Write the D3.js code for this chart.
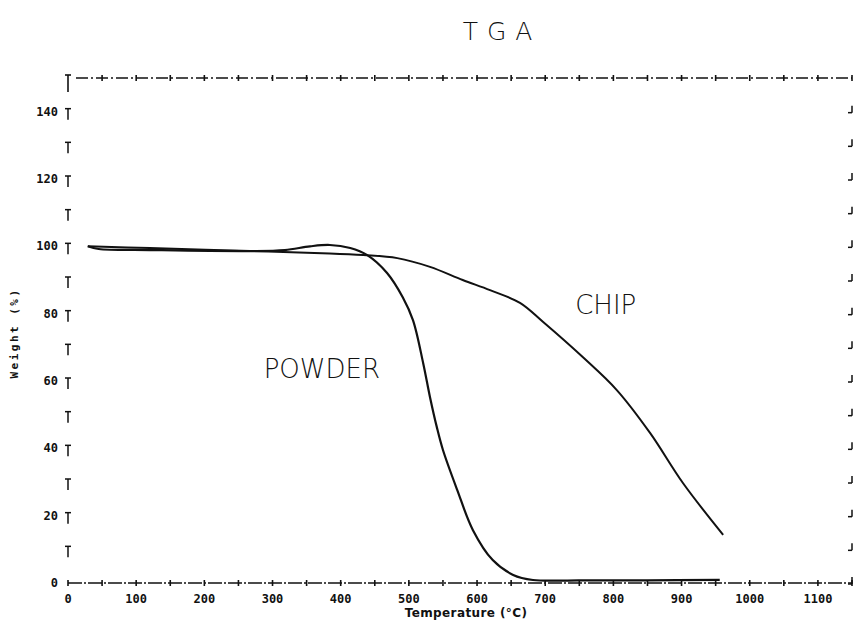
<!DOCTYPE html>
<html>
<head>
<meta charset="utf-8">
<script src="https://cdn.jsdelivr.net/npm/d3@7"></script>
<style>
  html, body { margin: 0; padding: 0; background: #fff; }
  svg { display: block; }
</style>
</head>
<body>
<svg id="chart" width="856" height="621"></svg>
<script>
// ---- data ----
const title = "TGA";
const xLabel = "Temperature (°C)";
const yLabel = "Weight (%)";
const xTickValues = [0, 100, 200, 300, 400, 500, 600, 700, 800, 900, 1000, 1100];
const yTickValues = [0, 20, 40, 60, 80, 100, 120, 140];

const powderTemp   = [29, 45, 120, 267, 318, 355, 384, 414, 439, 468, 491, 506, 521, 531, 541, 550, 571, 594, 623, 653, 682, 750, 850, 956];
const powderWeight = [100.0, 99.2, 98.9, 98.6, 98.9, 100.0, 100.4, 99.5, 97.4, 92.1, 84.9, 78.1, 65.3, 55.2, 46.3, 39.5, 27.6, 15.7, 6.8, 2.4, 0.9, 0.8, 0.8, 0.9];

const chipTemp   = [29, 120, 267, 384, 433, 483, 531, 579, 619, 663, 697, 755, 805, 854, 902, 961];
const chipWeight = [100.0, 99.5, 98.6, 97.9, 97.4, 96.5, 93.9, 90.0, 87.0, 83.2, 77.5, 67.1, 57.3, 44.5, 29.7, 14.3];

const seriesLabels = [
  { name: "POWDER", t: 287, w: 61 },
  { name: "CHIP",   t: 744, w: 80 }
];

// ---- layout ----
const svg = d3.select("#chart");
const x = d3.scaleLinear().domain([0, 1150]).range([68, 852]);
const y = d3.scaleLinear().domain([0, 150]).range([583, 78]);

const ink = "#111";

// title
svg.append("text")
  .attr("x", 502).attr("y", 40)
  .attr("text-anchor", "middle")
  .attr("font-family", "DejaVu Sans")
  .attr("font-weight", 200)
  .attr("font-size", 25)
  .attr("letter-spacing", 9)
  .attr("fill", ink)
  .text(title);

const axes = svg.append("g").attr("stroke", ink).attr("fill", "none");

// bottom axis line (plotter style)
axes.append("line")
  .attr("x1", x(0)).attr("x2", x(1150))
  .attr("y1", y(0)).attr("y2", y(0))
  .attr("stroke-width", 1.3)
  .attr("stroke-dasharray", "14 2 2 2");
// top axis line
axes.append("line")
  .attr("x1", x(0) + 8).attr("x2", x(1150))
  .attr("y1", y(150)).attr("y2", y(150))
  .attr("stroke-width", 1.3)
  .attr("stroke-dasharray", "12 3 2 3");

const xMinor = d3.range(0, 1151, 50);
// bottom ticks
axes.selectAll(".bt").data(xMinor).join("line")
  .attr("x1", d => x(d)).attr("x2", d => x(d))
  .attr("y1", y(0) - 3).attr("y2", y(0) + 3)
  .attr("stroke-width", 1.6);
// top ticks
axes.selectAll(".tt").data(xMinor.filter(d => d > 0)).join("line")
  .attr("x1", d => x(d)).attr("x2", d => x(d))
  .attr("y1", y(150) - 3).attr("y2", y(150) + 3)
  .attr("stroke-width", 1.6);

// top-left arrow
axes.append("line")
  .attr("x1", x(0)).attr("x2", x(0))
  .attr("y1", y(150) - 3).attr("y2", y(150) + 14)
  .attr("stroke-width", 1.6);
axes.append("line")
  .attr("x1", x(0) - 3).attr("x2", x(0) + 3)
  .attr("y1", y(150) - 3).attr("y2", y(150) - 3)
  .attr("stroke-width", 1.6);

// left "T" ticks
const yMinor = d3.range(10, 141, 10);
yMinor.forEach(v => {
  axes.append("line")
    .attr("x1", x(0) - 3).attr("x2", x(0) + 3)
    .attr("y1", y(v) - 3).attr("y2", y(v) - 3)
    .attr("stroke-width", 1.5);
  axes.append("line")
    .attr("x1", x(0)).attr("x2", x(0))
    .attr("y1", y(v) - 3).attr("y2", y(v) + 8)
    .attr("stroke-width", 1.5);
});
// right inverted-T ticks
d3.range(0, 141, 10).forEach(v => {
  axes.append("line")
    .attr("x1", x(1150)).attr("x2", x(1150))
    .attr("y1", y(v) - 6).attr("y2", y(v) + 1)
    .attr("stroke-width", 1.5);
  axes.append("line")
    .attr("x1", x(1150) - 4).attr("x2", x(1150))
    .attr("y1", y(v) + 1).attr("y2", y(v) + 1)
    .attr("stroke-width", 1.5);
});

// tick labels
const tickFont = "DejaVu Sans Mono";
svg.selectAll(".xl").data(xTickValues).join("text")
  .attr("x", d => x(d)).attr("y", 603)
  .attr("text-anchor", "middle")
  .attr("font-family", tickFont).attr("font-weight", "bold")
  .attr("font-size", 12).attr("fill", ink)
  .text(d => d);
svg.selectAll(".yl").data(yTickValues).join("text")
  .attr("x", 58).attr("y", d => y(d) + 4)
  .attr("text-anchor", "end")
  .attr("font-family", tickFont).attr("font-weight", "bold")
  .attr("font-size", 12).attr("fill", ink)
  .text(d => d);

// axis titles
svg.append("text")
  .attr("x", 466).attr("y", 617)
  .attr("text-anchor", "middle")
  .attr("font-family", "DejaVu Sans").attr("font-weight", "bold")
  .attr("font-size", 12).attr("letter-spacing", 0.4).attr("fill", ink)
  .text(xLabel);
svg.append("text")
  .attr("transform", "translate(18,333) rotate(-90)")
  .attr("text-anchor", "middle")
  .attr("font-family", "DejaVu Sans Mono").attr("font-weight", "bold")
  .attr("font-size", 11).attr("letter-spacing", 2.5).attr("fill", ink)
  .text(yLabel);

// curves
const line = d3.line()
  .x(d => x(d[0])).y(d => y(d[1]))
  .curve(d3.curveCatmullRom.alpha(0.5));

const powder = d3.zip(powderTemp, powderWeight);
const chip = d3.zip(chipTemp, chipWeight);

svg.append("path").datum(powder)
  .attr("d", line).attr("fill", "none")
  .attr("stroke", ink).attr("stroke-width", 2.2);
svg.append("path").datum(chip)
  .attr("d", line).attr("fill", "none")
  .attr("stroke", ink).attr("stroke-width", 2);

// series labels
svg.selectAll(".sl").data(seriesLabels).join("text")
  .attr("x", d => x(d.t)).attr("y", d => y(d.w))
  .attr("font-family", "DejaVu Sans")
  .attr("font-weight", 300)
  .attr("font-size", 26)
  .attr("fill", ink)
  .text(d => d.name);
</script>
</body>
</html>
